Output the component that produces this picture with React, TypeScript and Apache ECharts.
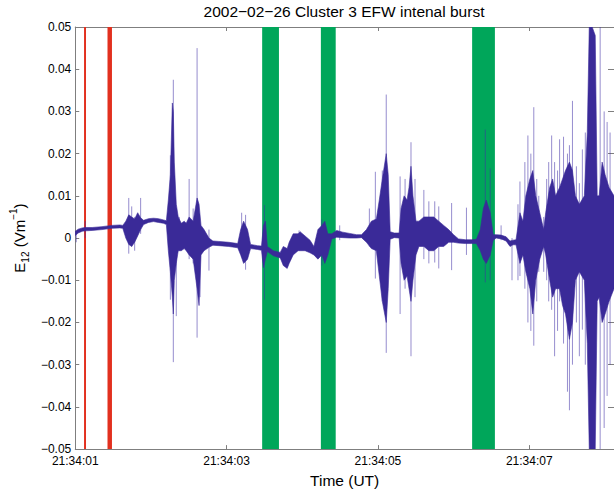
import React, { useEffect, useRef } from "react";
import * as echarts from "echarts";

// time in seconds after 21:34:01
const coreT = [0.000,0.039,0.092,0.131,0.223,0.353,0.484,0.589,0.628,0.668,0.707,0.746,0.785,0.825,0.864,0.903,0.969,1.034,1.099,1.165,1.204,1.230,1.257,1.283,1.296,1.309,1.335,1.361,1.401,1.440,1.466,1.505,1.558,1.610,1.636,1.662,1.702,1.767,1.819,1.898,2.029,2.147,2.186,2.225,2.277,2.317,2.408,2.461,2.487,2.513,2.539,2.618,2.709,2.749,2.801,2.827,2.880,2.945,2.971,3.037,3.102,3.154,3.207,3.259,3.298,3.338,3.390,3.455,3.534,3.626,3.717,3.783,3.848,3.914,3.979,4.018,4.058,4.110,4.136,4.162,4.215,4.280,4.306,4.346,4.385,4.411,4.437,4.463,4.503,4.542,4.607,4.673,4.738,4.804,4.869,4.935,5.000,5.065,5.157,5.236,5.301,5.353,5.393,5.432,5.484,5.524,5.563,5.628,5.694,5.746,5.785,5.825,5.877,5.916,5.955,6.008,6.047,6.086,6.139,6.191,6.217,6.270,6.309,6.348,6.401,6.440,6.479,6.531,6.571,6.610,6.662,6.728,6.767,6.793,6.832,6.872,6.898,6.924,6.963,7.003,7.055,7.120];
const coreHi = [0.0016,0.0021,0.0024,0.0025,0.0025,0.0027,0.0030,0.0031,0.0030,0.0040,0.0055,0.0050,0.0045,0.0060,0.0048,0.0042,0.0046,0.0047,0.0046,0.0043,0.0041,0.0090,0.0150,0.0320,0.0300,0.0180,0.0080,0.0050,0.0035,0.0040,0.0035,0.0050,0.0040,0.0095,0.0080,0.0030,0.0020,0.0000,-0.0007,-0.0008,-0.0010,-0.0013,0.0020,0.0040,0.0020,-0.0015,-0.0018,-0.0019,0.0030,0.0040,-0.0020,-0.0030,-0.0034,-0.0020,-0.0025,-0.0010,0.0010,0.0010,0.0015,0.0005,-0.0005,-0.0020,0.0020,0.0030,0.0040,0.0010,0.0010,0.0018,0.0014,0.0011,0.0008,0.0008,0.0020,0.0040,0.0045,0.0090,0.0140,0.0200,0.0150,0.0015,0.0012,0.0012,0.0070,0.0100,0.0090,0.0120,0.0170,0.0100,0.0040,0.0040,0.0050,0.0050,0.0050,0.0040,0.0030,0.0020,0.0008,-0.0002,-0.0004,-0.0004,-0.0003,0.0020,0.0070,0.0090,0.0060,0.0008,0.0008,0.0007,0.0003,-0.0007,-0.0005,-0.0004,0.0060,0.0040,0.0100,0.0140,0.0160,0.0100,0.0060,0.0020,0.0060,0.0120,0.0140,0.0100,0.0120,0.0140,0.0160,0.0180,0.0160,0.0100,0.0080,0.0100,0.0250,0.0500,0.0500,0.0480,0.0100,0.0100,0.0180,0.0150,0.0120,0.0100];
const coreLo = [0.0006,0.0012,0.0016,0.0017,0.0018,0.0020,0.0023,0.0024,0.0023,0.0000,-0.0015,-0.0020,-0.0010,0.0005,0.0020,0.0032,0.0037,0.0039,0.0037,0.0035,0.0032,-0.0030,-0.0080,-0.0140,-0.0180,-0.0100,-0.0060,-0.0030,-0.0030,-0.0025,-0.0030,-0.0040,-0.0050,-0.0120,-0.0160,-0.0040,-0.0030,-0.0022,-0.0017,-0.0018,-0.0020,-0.0023,-0.0040,-0.0060,-0.0050,-0.0025,-0.0027,-0.0029,-0.0070,-0.0050,-0.0032,-0.0042,-0.0047,-0.0065,-0.0072,-0.0060,-0.0040,-0.0030,-0.0030,-0.0030,-0.0035,-0.0040,-0.0050,-0.0040,-0.0060,-0.0040,-0.0002,0.0002,0.0001,0.0000,0.0000,0.0001,-0.0010,-0.0025,-0.0030,-0.0090,-0.0150,-0.0200,-0.0120,-0.0003,0.0001,0.0000,-0.0060,-0.0100,-0.0090,-0.0120,-0.0150,-0.0100,-0.0040,-0.0020,-0.0020,-0.0030,-0.0030,-0.0020,-0.0020,-0.0010,-0.0010,-0.0012,-0.0013,-0.0013,-0.0013,-0.0030,-0.0050,-0.0060,-0.0040,-0.0005,0.0000,-0.0002,-0.0007,-0.0020,-0.0016,-0.0016,-0.0060,-0.0040,-0.0080,-0.0120,-0.0180,-0.0100,-0.0050,-0.0020,-0.0040,-0.0100,-0.0140,-0.0120,-0.0120,-0.0160,-0.0180,-0.0240,-0.0200,-0.0100,-0.0080,-0.0100,-0.0250,-0.0500,-0.0500,-0.0500,-0.0150,-0.0140,-0.0200,-0.0180,-0.0150,-0.0120];

const spikeT = [0.013,0.131,0.707,0.746,0.785,0.864,1.257,1.296,1.335,1.374,1.505,1.558,1.610,1.649,1.767,2.199,2.251,2.500,2.958,3.259,3.495,3.887,3.966,4.058,4.110,4.293,4.359,4.437,4.490,4.607,4.673,4.751,4.804,4.974,5.170,5.419,5.484,5.628,5.772,5.851,5.877,5.942,5.982,6.021,6.060,6.099,6.126,6.191,6.230,6.257,6.296,6.335,6.374,6.401,6.453,6.505,6.531,6.571,6.623,6.662,6.702,6.741,6.806,6.937,6.990,7.029,7.068];
const spikeHi = [0.0015,0.0040,0.0095,0.0075,0.0050,0.0095,0.0196,0.0375,0.0050,0.0050,0.0140,0.0070,0.0450,0.0030,0.0020,0.0060,0.0055,0.0078,0.0018,0.0044,0.0030,0.0070,0.0157,0.0160,0.0340,0.0146,0.0140,0.0227,0.0140,0.0114,0.0087,0.0087,0.0075,0.0083,0.0072,0.0257,0.0165,0.0030,0.0000,0.0080,0.0134,0.0180,0.0243,0.0200,0.0310,0.0140,0.0100,0.0050,0.0140,0.0180,0.0243,0.0180,0.0160,0.0234,0.0240,0.0200,0.0220,0.0325,0.0170,0.0130,0.0210,0.0250,0.0500,0.0500,0.0300,0.0275,0.0250];
const spikeLo = [-0.0010,0.0000,-0.0037,-0.0020,-0.0030,0.0010,-0.0146,-0.0294,-0.0185,-0.0020,-0.0050,-0.0060,-0.0236,-0.0140,-0.0077,-0.0045,-0.0075,-0.0146,-0.0030,-0.0065,-0.0005,-0.0020,-0.0096,-0.0150,-0.0272,-0.0180,-0.0120,-0.0280,-0.0140,-0.0050,-0.0060,-0.0058,-0.0072,-0.0076,-0.0040,-0.0105,-0.0100,-0.0005,-0.0100,-0.0100,-0.0090,-0.0120,-0.0200,-0.0220,-0.0255,-0.0150,-0.0080,-0.0080,-0.0100,-0.0150,-0.0170,-0.0280,-0.0220,-0.0150,-0.0250,-0.0364,-0.0408,-0.0300,-0.0200,-0.0280,-0.0217,-0.0300,-0.0500,-0.0500,-0.0450,-0.0374,-0.0300];

const redBands = [[0.116, 0.142], [0.426, 0.485]];
const greenBands = [[2.470, 2.692], [3.246, 3.442], [5.245, 5.546]];

const xTickLabels = ["21:34:01", "21:34:03", "21:34:05", "21:34:07"];
const yMin = -0.05;
const yMax = 0.05;
const yStep = 0.01;
const xMin = 0;
const xMax = 7.120;
const xStep = 2;

const FONT = "Liberation Sans, Arial, Helvetica, sans-serif";
const AXIS_COLOR = "#7f7f7f";

export default function App() {
  const ref = useRef<HTMLDivElement>(null);
  useEffect(() => {
    if (!ref.current) return;
    const chart = echarts.init(ref.current, null, { renderer: "svg" });

    const bandSeries = (data: number[][], color: string, z: number) => ({
      type: "custom",
      z,
      clip: true,
      silent: true,
      data,
      encode: { x: [0, 1] },
      renderItem: (params: any, api: any) => {
        const p1 = api.coord([api.value(0), yMax]);
        const p2 = api.coord([api.value(1), yMin]);
        return {
          type: "rect",
          shape: { x: p1[0], y: p1[1], width: p2[0] - p1[0], height: p2[1] - p1[1] },
          style: { fill: color },
        };
      },
    });

    const spikeData = spikeT.map((t, i) => [t, spikeHi[i], spikeLo[i]]);

    const axisLineStyle = { show: true, onZero: false, lineStyle: { color: AXIS_COLOR, width: 1 } };
    const tickStyle = { show: true, inside: true, length: 4, lineStyle: { color: AXIS_COLOR } };

    chart.setOption({
      animation: false,
      grid: { left: 73, right: -3, top: 27, bottom: 38, containLabel: false },
      graphic: [
        {
          type: "text",
          x: 344,
          y: 3,
          style: {
            text: "2002\u221202\u221226 Cluster 3 EFW intenal burst",
            fill: "#000",
            fontSize: 15.5,
            fontFamily: FONT,
            align: "center",
            verticalAlign: "top",
          },
        },
      ],
      xAxis: [
        {
          type: "value",
          min: xMin,
          max: xMax,
          interval: xStep,
          position: "bottom",
          axisLine: axisLineStyle,
          axisTick: tickStyle,
          axisLabel: {
            color: "#000",
            fontSize: 12,
            lineHeight: 12,
            fontFamily: FONT,
            margin: 6,
            showMaxLabel: false,
            formatter: (v: number) => xTickLabels[Math.round(v / xStep)] ?? "",
          },
          splitLine: { show: false },
          name: "Time (UT)",
          nameLocation: "middle",
          nameGap: 19,
          nameTextStyle: { color: "#000", fontSize: 15.5, fontFamily: FONT, verticalAlign: "top" },
        },
        {
          type: "value",
          min: xMin,
          max: xMax,
          interval: xStep,
          position: "top",
          axisLine: axisLineStyle,
          axisTick: tickStyle,
          axisLabel: { show: false },
          splitLine: { show: false },
        },
      ],
      yAxis: [
        {
          type: "value",
          min: yMin,
          max: yMax,
          interval: yStep,
          position: "left",
          axisLine: axisLineStyle,
          axisTick: tickStyle,
          axisLabel: {
            color: "#000",
            fontSize: 12,
            lineHeight: 12,
            fontFamily: FONT,
            margin: 4,
            formatter: (v: number) =>
              Math.abs(v) < 1e-9 ? "0" : (v < 0 ? "\u2212" : "") + Math.abs(v).toFixed(2),
          },
          splitLine: { show: false },
          name: "{n|E}{sub|12}{n| (Vm}{sup|\u22121}{n|)}",
          nameLocation: "middle",
          nameRotate: 90,
          nameGap: 29,
          nameTextStyle: {
            color: "#000",
            fontFamily: FONT,
            rich: {
              n: { fontSize: 15, fontFamily: FONT, color: "#000", lineHeight: 22, verticalAlign: "middle" },
              sub: { fontSize: 10, fontFamily: FONT, color: "#000", lineHeight: 10, verticalAlign: "bottom" },
              sup: { fontSize: 10, fontFamily: FONT, color: "#000", lineHeight: 10, verticalAlign: "top" },
            },
          },
        },
        {
          type: "value",
          min: yMin,
          max: yMax,
          interval: yStep,
          position: "right",
          axisLine: axisLineStyle,
          axisTick: { show: true, inside: true, length: 6, lineStyle: { color: AXIS_COLOR } },
          axisLabel: { show: false },
          splitLine: { show: false },
        },
      ],
      series: [
        bandSeries(greenBands, "#00a65a", 1),
        bandSeries(redBands, "#e2301f", 2),
        {
          type: "custom",
          z: 3,
          clip: true,
          silent: true,
          data: spikeData,
          encode: { x: 0, y: [1, 2] },
          renderItem: (params: any, api: any) => {
            const a = api.coord([api.value(0), api.value(1)]);
            const b = api.coord([api.value(0), api.value(2)]);
            return {
              type: "line",
              shape: { x1: a[0], y1: a[1], x2: b[0], y2: b[1] },
              style: { stroke: "rgba(64,48,165,0.55)", lineWidth: 1 },
            };
          },
        },
        {
          type: "custom",
          z: 4,
          clip: true,
          silent: true,
          data: [[coreT[0], coreHi[0]]],
          renderItem: (params: any, api: any) => {
            const pts: number[][] = [];
            for (let i = 0; i < coreT.length; i++) pts.push(api.coord([coreT[i], coreHi[i]]));
            for (let i = coreT.length - 1; i >= 0; i--) pts.push(api.coord([coreT[i], coreLo[i]]));
            return {
              type: "polygon",
              shape: { points: pts },
              style: { fill: "#3a2a98", stroke: "#3a2a98", lineWidth: 0.6, lineJoin: "round" },
            };
          },
        },
      ],
    });
    return () => chart.dispose();
  }, []);

  return (
    <div
      ref={ref}
      style={{ position: "fixed", left: 0, top: 0, width: 614, height: 493, background: "#fff" }}
    />
  );
}
